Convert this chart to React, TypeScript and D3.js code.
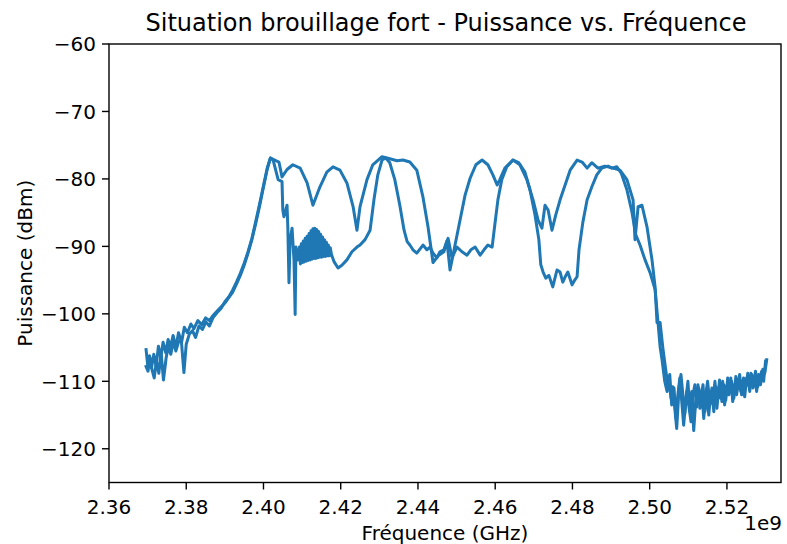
import React from "react";
import * as d3 from "d3";

// Frequencies in MHz, powers in dBm
const traceA: [number, number][] = [
  [2369.6, -105.3], [2370.0, -107.5], [2370.5, -106.2], [2371.0, -108.0], [2371.6, -106.0],
  [2372.2, -107.8], [2372.8, -104.8], [2373.4, -106.5], [2374.0, -104.2], [2374.7, -105.8],
  [2375.3, -103.8], [2376.0, -104.8], [2376.6, -103.2], [2377.3, -105.0], [2378.0, -102.8],
  [2378.8, -104.2], [2379.5, -102.0], [2380.3, -102.8], [2381.2, -101.5], [2382.0, -102.2],
  [2383.0, -101.0], [2384.0, -101.6], [2385.0, -100.6], [2386.0, -101.0], [2387.0, -100.2],
  [2388.0, -99.6], [2389.0, -99.0], [2390.0, -98.4], [2391.0, -97.6], [2392.0, -96.8],
  [2393.0, -95.6], [2394.0, -94.3], [2395.0, -92.8], [2396.0, -91.0], [2397.0, -89.0],
  [2398.0, -86.6], [2399.0, -84.0], [2400.0, -81.2], [2401.0, -78.5], [2401.8, -76.9],
  [2404.0, -77.5], [2404.8, -79.7], [2406.1, -78.6], [2407.6, -77.9], [2409.5, -78.4],
  [2411.3, -80.6], [2412.8, -83.9], [2414.6, -81.2], [2416.4, -79.0], [2418.0, -78.2],
  [2419.8, -78.7], [2421.6, -80.6], [2423.2, -84.1], [2424.2, -87.6], [2425.0, -84.1],
  [2426.8, -80.1], [2428.3, -77.9], [2430.7, -76.7], [2432.7, -77.0], [2434.6, -77.3],
  [2436.1, -77.2], [2437.9, -77.5], [2439.7, -78.7], [2441.3, -82.7], [2442.6, -87.1],
  [2443.9, -92.4], [2445.2, -91.4], [2446.7, -90.8], [2447.5, -89.2], [2448.3, -93.5],
  [2449.6, -89.8], [2450.9, -86.1], [2452.2, -82.4], [2453.5, -79.9], [2455.0, -77.9],
  [2456.6, -77.2], [2458.1, -77.9], [2459.4, -79.4], [2460.5, -80.9], [2461.2, -80.1],
  [2462.5, -78.4], [2464.6, -77.2], [2466.4, -77.9], [2468.2, -80.1], [2469.8, -83.1],
  [2471.1, -86.1], [2472.1, -87.3], [2472.9, -83.9], [2473.7, -84.6], [2474.7, -87.6],
  [2475.7, -85.3], [2476.8, -83.1], [2478.1, -80.9], [2479.4, -78.7], [2481.2, -77.2],
  [2482.5, -77.5], [2483.8, -78.4], [2485.0, -77.6], [2486.6, -78.4], [2488.4, -78.1],
  [2490.5, -78.4], [2492.3, -78.7], [2494.1, -80.1], [2495.7, -83.1], [2496.2, -89.0],
  [2497.0, -84.1], [2498.0, -83.9], [2499.3, -87.1], [2500.6, -92.0], [2501.4, -96.0],
  [2501.9, -101.3], [2502.7, -101.3], [2503.4, -105.0],
  [2504.2, -108.5], [2504.7, -110.5], [2505.2, -109.0], [2505.7, -113.5], [2506.3, -111.0],
  [2506.8, -115.5], [2507.3, -112.0], [2507.8, -109.5], [2508.3, -113.0], [2508.8, -116.5],
  [2509.4, -112.5], [2509.9, -110.0], [2510.4, -114.5], [2510.9, -111.5], [2511.4, -117.3],
  [2511.9, -113.0], [2512.5, -110.5], [2513.0, -114.0], [2513.5, -111.5], [2514.0, -115.5],
  [2514.5, -112.0], [2515.0, -110.0], [2515.6, -113.5], [2516.1, -111.0], [2516.6, -114.5],
  [2517.1, -110.8], [2517.6, -112.5], [2518.1, -109.8], [2518.7, -113.0], [2519.2, -110.5],
  [2519.7, -112.8], [2520.2, -109.5], [2520.7, -111.5], [2521.2, -110.0], [2521.8, -112.5],
  [2522.3, -109.3], [2522.8, -111.0], [2523.3, -109.0], [2523.8, -112.0], [2524.3, -109.5],
  [2524.9, -110.8], [2525.4, -108.8], [2525.9, -111.5], [2526.4, -109.0], [2526.9, -110.2],
  [2527.4, -108.5], [2528.0, -110.8], [2528.5, -109.5], [2529.0, -108.5], [2529.5, -110.0],
  [2530.0, -107.0],
];

const traceB: [number, number][] = [
  [2369.6, -107.8], [2370.1, -108.5], [2370.6, -106.5], [2371.1, -108.2], [2371.7, -109.5],
  [2372.3, -107.0], [2372.9, -108.8], [2373.5, -105.8], [2374.1, -109.8], [2374.8, -106.5],
  [2375.4, -104.8], [2376.0, -106.0], [2376.7, -104.0], [2377.3, -105.5], [2378.0, -104.2],
  [2378.7, -103.8], [2379.4, -108.7], [2380.0, -104.5], [2380.8, -103.0], [2381.6, -102.5],
  [2382.4, -103.5], [2383.3, -101.8], [2384.2, -102.3], [2385.1, -101.2], [2386.0, -101.8],
  [2387.0, -100.5], [2388.0, -99.8], [2389.0, -99.2], [2390.0, -98.2], [2391.0, -97.5],
  [2392.0, -96.5], [2393.0, -95.3], [2394.0, -94.0], [2395.0, -92.5], [2396.0, -90.8],
  [2397.0, -88.8], [2398.0, -86.3], [2399.0, -83.7], [2400.0, -81.0], [2401.0, -78.3],
  [2401.8, -76.9], [2402.5, -77.2], [2403.8, -80.1], [2404.8, -80.4], [2405.0, -84.6],
  [2405.3, -85.6], [2406.1, -83.9], [2406.3, -87.1], [2406.6, -95.4], [2406.9, -89.0],
  [2407.4, -87.3], [2407.9, -92.0], [2408.2, -100.1], [2408.4, -90.1], [2408.9, -92.0],
  [2409.3, -90.1], [2409.55, -92.6], [2409.8, -89.6], [2410.05, -92.4], [2410.3, -89.2],
  [2410.55, -92.3], [2410.8, -88.8], [2411.05, -92.2], [2411.3, -88.5], [2411.55, -92.1],
  [2411.8, -88.1], [2412.05, -92.0], [2412.3, -87.7], [2412.55, -91.9], [2412.8, -87.4],
  [2413.05, -91.8], [2413.3, -87.3], [2413.55, -91.8], [2413.8, -87.5], [2414.05, -91.7],
  [2414.3, -87.8], [2414.55, -91.6], [2414.8, -88.2], [2415.05, -91.6], [2415.3, -88.6],
  [2415.55, -91.5], [2415.8, -89.0], [2416.05, -91.5], [2416.3, -89.4], [2416.55, -91.4],
  [2416.8, -89.8], [2417.05, -91.4], [2417.3, -90.2], [2417.6, -91.2],
  [2418.3, -92.3], [2419.3, -93.2], [2420.3, -92.8], [2421.6, -92.0],
  [2422.9, -90.8], [2424.2, -90.1], [2425.0, -89.8], [2426.3, -89.0], [2427.6, -87.6],
  [2428.6, -83.1], [2429.6, -79.4], [2430.7, -77.2], [2431.7, -76.9], [2432.7, -77.6],
  [2434.0, -80.1], [2435.3, -83.9], [2436.4, -87.6], [2437.2, -89.3], [2437.9, -89.8],
  [2438.7, -90.5], [2439.7, -91.0], [2440.5, -90.4], [2441.3, -89.8], [2442.3, -90.5],
  [2443.1, -90.1], [2443.9, -91.0], [2444.9, -91.7], [2445.7, -90.8], [2446.7, -90.5],
  [2447.8, -88.8], [2448.8, -91.7], [2450.1, -90.1], [2451.4, -90.8], [2452.7, -91.3],
  [2453.7, -90.5], [2454.8, -90.1], [2456.1, -91.3], [2457.1, -90.5], [2458.1, -89.8],
  [2459.2, -90.1], [2459.9, -86.8], [2460.7, -83.1], [2461.7, -80.1], [2463.0, -78.2],
  [2464.6, -77.2], [2466.1, -77.6], [2467.7, -79.0], [2469.0, -81.6], [2470.3, -85.3],
  [2471.3, -89.0], [2471.8, -92.7], [2472.4, -93.8], [2473.1, -94.7], [2473.9, -94.3],
  [2474.9, -96.0], [2476.0, -93.5], [2476.8, -93.8], [2477.5, -95.3], [2478.3, -94.3],
  [2478.8, -93.8], [2479.9, -95.7], [2480.6, -95.0], [2481.2, -94.5], [2481.7, -90.5],
  [2482.7, -86.4], [2483.8, -83.1], [2485.0, -81.2], [2486.3, -79.4], [2487.6, -78.4],
  [2489.2, -78.1], [2490.2, -78.4], [2491.5, -78.2], [2492.6, -79.1], [2494.1, -81.6],
  [2495.4, -84.9], [2496.4, -88.3], [2497.5, -89.8], [2498.8, -92.0], [2500.1, -93.9],
  [2501.4, -96.4], [2502.1, -100.9], [2502.7, -104.9], [2503.2, -106.8],
  [2503.9, -110.0], [2504.5, -111.5], [2505.0, -109.5], [2505.5, -112.5], [2506.0, -110.8],
  [2506.5, -114.0], [2507.0, -117.0], [2507.6, -111.0], [2508.1, -109.0], [2508.6, -112.0],
  [2509.1, -114.8], [2509.6, -111.5], [2510.1, -113.5], [2510.7, -116.0], [2511.2, -112.0],
  [2511.7, -110.5], [2512.2, -113.8], [2512.7, -111.0], [2513.2, -112.8], [2513.8, -110.5],
  [2514.3, -114.5], [2514.8, -111.8], [2515.3, -115.0], [2515.8, -111.5], [2516.3, -113.0],
  [2516.9, -110.0], [2517.4, -114.0], [2517.9, -111.0], [2518.4, -112.5], [2518.9, -110.0],
  [2519.4, -113.5], [2520.0, -110.8], [2520.5, -112.0], [2521.0, -109.5], [2521.5, -113.0],
  [2522.0, -110.5], [2522.5, -112.0], [2523.1, -109.8], [2523.6, -111.5], [2524.1, -110.0],
  [2524.6, -112.3], [2525.1, -109.5], [2525.6, -110.5], [2526.2, -108.8], [2526.7, -111.0],
  [2527.2, -109.5], [2527.7, -111.5], [2528.2, -109.0], [2528.7, -110.5], [2529.3, -108.2],
  [2529.8, -108.8], [2530.3, -106.8],
];

const xTicks = [2360, 2380, 2400, 2420, 2440, 2460, 2480, 2500, 2520];
const yTicks = [-120, -110, -100, -90, -80, -70, -60];
const xDomain: [number, number] = [2360, 2534];
const yDomain: [number, number] = [-125, -60];

const W = 787;
const H = 544;
const M = { left: 109, right: 781, top: 44, bottom: 482.5 };
const FONT = "'DejaVu Sans', sans-serif";
const COLOR = "#1f77b4";

export default function App() {
  const x = d3.scaleLinear().domain(xDomain).range([M.left, M.right]);
  const y = d3.scaleLinear().domain(yDomain).range([M.bottom, M.top]);
  const line = d3
    .line<[number, number]>()
    .x((d) => x(d[0]))
    .y((d) => y(d[1]));
  const fmtY = (v: number) => (v < 0 ? "\u2212" + Math.abs(v) : String(v));
  return (
    <div style={{ position: "absolute", left: 0, top: 0 }}>
      <svg width={W} height={H} style={{ display: "block", background: "#fff" }}>
        <defs>
          <clipPath id="plotclip">
            <rect x={M.left} y={M.top} width={M.right - M.left} height={M.bottom - M.top} />
          </clipPath>
        </defs>
        <g clipPath="url(#plotclip)">
          {[traceA, traceB].map((t, i) => (
            <path
              key={i}
              d={line(t) || ""}
              fill="none"
              stroke={COLOR}
              strokeWidth={3}
              strokeLinejoin="round"
              strokeLinecap="square"
            />
          ))}
        </g>
        <rect
          x={M.left}
          y={M.top}
          width={M.right - M.left}
          height={M.bottom - M.top}
          fill="none"
          stroke="#000"
          strokeWidth={1.4}
        />
        {xTicks.map((t) => (
          <g key={t}>
            <line x1={x(t)} x2={x(t)} y1={M.bottom} y2={M.bottom + 7} stroke="#000" strokeWidth={1.4} />
            <text
              x={x(t)}
              y={514}
              textAnchor="middle"
              fontFamily={FONT}
              fontSize={20}
              fill="#000"
            >
              {(t / 1000).toFixed(2)}
            </text>
          </g>
        ))}
        {yTicks.map((t) => (
          <g key={t}>
            <line x1={M.left - 7} x2={M.left} y1={y(t)} y2={y(t)} stroke="#000" strokeWidth={1.4} />
            <text
              x={M.left - 13}
              y={y(t)}
              dy="0.36em"
              textAnchor="end"
              fontFamily={FONT}
              fontSize={20}
              fill="#000"
            >
              {fmtY(t)}
            </text>
          </g>
        ))}
        <text x={M.right + 1} y={530} textAnchor="end" fontFamily={FONT} fontSize={20} fill="#000">
          1e9
        </text>
        <text
          x={(M.left + M.right) / 2}
          y={540}
          textAnchor="middle"
          fontFamily={FONT}
          fontSize={20}
          fill="#000"
        >
          Fréquence (GHz)
        </text>
        <text
          transform={`translate(32,${(M.top + M.bottom) / 2}) rotate(-90)`}
          textAnchor="middle"
          fontFamily={FONT}
          fontSize={20}
          fill="#000"
        >
          Puissance (dBm)
        </text>
        <text
          x={(M.left + M.right) / 2 + 1}
          y={31}
          textAnchor="middle"
          fontFamily={FONT}
          fontSize={24}
          fill="#000"
        >
          Situation brouillage fort - Puissance vs. Fréquence
        </text>
      </svg>
    </div>
  );
}
